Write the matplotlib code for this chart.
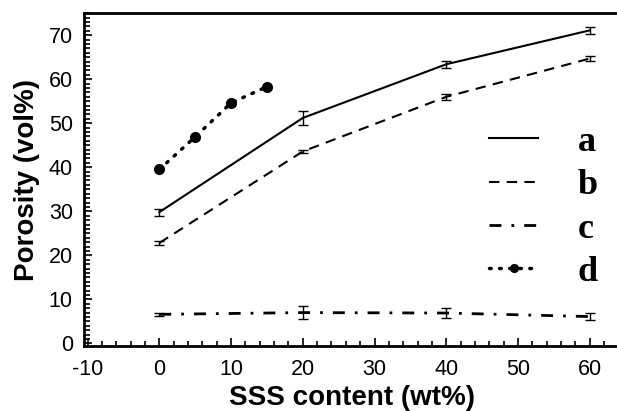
import numpy as np
import matplotlib.pyplot as plt
from matplotlib.ticker import MultipleLocator

# porosity vs SSS content
sss = [0, 20, 40, 60]
porosityA = [29.8, 51.2, 63.4, 71.1]
errA = [0.8, 1.5, 0.8, 0.8]
porosityB = [22.8, 43.6, 56.0, 64.7]
errB = [0.5, 0.4, 0.7, 0.6]
porosityC = [6.6, 7.0, 6.9, 6.1]
errC = [0.3, 1.5, 1.1, 0.7]
sssD = [0, 5, 10, 15]
porosityD = [39.5, 46.9, 54.6, 58.3]

labels = ["a", "b", "c", "d"]


def main():
    plt.rcParams["font.family"] = ["Liberation Sans", "DejaVu Sans"]
    plt.rcParams["axes.unicode_minus"] = False

    fig = plt.figure(figsize=(6.17, 4.11), dpi=100)
    ax = fig.add_axes([0.136, 0.158, 0.87, 0.81])

    lw = 1.5
    ebKw = dict(ecolor="black", elinewidth=1.0, capsize=3.6, capthick=1.0)

    ax.errorbar(sss, porosityA, yerr=errA, color="black", lw=lw, ls="-", **ebKw)
    ax.errorbar(sss, porosityB, yerr=errB, color="black", lw=lw, ls=(0, (5, 3.5)), **ebKw)
    ax.errorbar(sss, porosityC, yerr=errC, color="black", lw=2.0, ls=(0, (4.3, 3.6, 1, 3.6)), **ebKw)

    # legend handles (line only, no error bars)
    hA, = ax.plot([], [], color="black", lw=lw, ls="-")
    hB, = ax.plot([], [], color="black", lw=lw, ls=(0, (5, 3.5)))
    hC, = ax.plot([], [], color="black", lw=2.0, ls=(0, (4.3, 3.6, 1, 3.6)))
    hD, = ax.plot(sssD, porosityD, color="black", lw=2.5, ls=(0, (0.5, 2.4)),
                  dash_capstyle="round", marker="o", markersize=7)

    ax.set_xlim(-10.5, 64.3)
    ax.set_ylim(-0.6, 75)

    ax.xaxis.set_major_locator(MultipleLocator(10))
    ax.xaxis.set_minor_locator(MultipleLocator(2))
    ax.yaxis.set_major_locator(MultipleLocator(10))
    ax.yaxis.set_minor_locator(MultipleLocator(1))

    ax.tick_params(which="both", direction="in", top=False, right=False, width=1.2)
    ax.tick_params(axis="x", which="major", length=6, pad=9, labelsize=15.5)
    ax.tick_params(axis="x", which="minor", length=3.5)
    ax.tick_params(axis="y", which="major", length=6, pad=8, labelsize=15.5)
    ax.tick_params(axis="y", which="minor", length=4.5)

    for side in ["left", "bottom", "top", "right"]:
        ax.spines[side].set_linewidth(2.0)

    ax.set_xlabel("SSS content (wt%)", fontsize=20, fontweight="bold", labelpad=4)
    ax.set_ylabel("Porosity (vol%)", fontsize=20, fontweight="bold", labelpad=6)

    ax.legend([hA, hB, hC, hD], labels, loc="upper left", bbox_to_anchor=(0.695, 0.76),
              frameon=False, numpoints=1, handlelength=1.35, handletextpad=1.1,
              labelspacing=0.28, markerscale=0.8,
              prop={"family": "Liberation Serif", "weight": "bold", "size": 26})

    fig.savefig("out.png", dpi=100)


if __name__ == "__main__":
    main()
